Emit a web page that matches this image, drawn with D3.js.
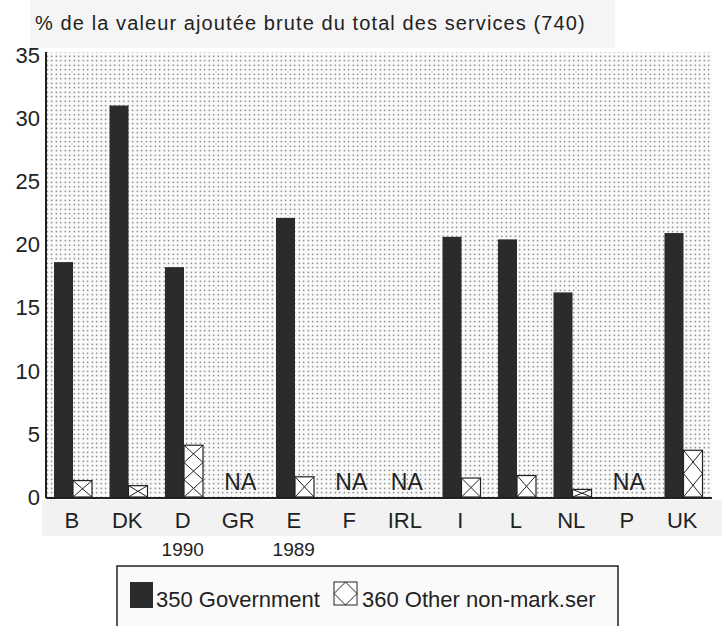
<!DOCTYPE html>
<html>
<head>
<meta charset="UTF-8">
<style>
  body { margin: 0; background: #fff; }
  svg { display: block; font-family: "Liberation Sans", Arial, sans-serif; }
</style>
</head>
<body>
<svg></svg>
<script src="https://d3js.org/d3.v7.min.js"></script>
<script>
const width = 722, height = 626;

// data
const countries = ["B", "DK", "D", "GR", "E", "F", "IRL", "I", "L", "NL", "P", "UK"];
const subLabels = ["", "", "1990", "", "1989", "", "", "", "", "", "", ""];
const government = [18.6, 31.0, 18.2, null, 22.1, null, null, 20.6, 20.4, 16.2, null, 20.9];
const otherNonMarket = [1.3, 0.9, 4.1, null, 1.6, null, null, 1.5, 1.7, 0.6, null, 3.7];
const yTicks = [0, 5, 10, 15, 20, 25, 30, 35];

const svg = d3.select("svg").attr("width", width).attr("height", height);

const margin = {left: 46, right: 10, top: 55, bottom: 129};

const x = d3.scaleBand()
  .domain(countries)
  .range([margin.left, width - margin.right])
  .paddingInner(0).paddingOuter(0);

const y = d3.scaleLinear()
  .domain([0, 35])
  .range([height - margin.bottom, margin.top]);

// patterns
const defs = svg.append("defs");
const dots = defs.append("pattern")
  .attr("id", "dots")
  .attr("width", 4.5).attr("height", 4.5)
  .attr("patternUnits", "userSpaceOnUse");
dots.append("rect").attr("width", 4.5).attr("height", 4.5).attr("fill", "#fbfbfb");
dots.append("rect").attr("x", 1.6).attr("y", 1.6).attr("width", 1.3).attr("height", 1.3).attr("fill", "#555");

// faint grey scan bands
svg.append("rect").attr("x", 30).attr("y", 0).attr("width", 585).attr("height", 48).attr("fill", "#f5f5f5");
svg.append("rect").attr("x", 42).attr("y", 500).attr("width", 680).attr("height", 36).attr("fill", "#f2f2f2");

// title
svg.append("text")
  .attr("x", 35).attr("y", 30)
  .attr("font-size", 20)
  .attr("letter-spacing", 1.1)
  .attr("fill", "#222")
  .text("% de la valeur ajoutée brute du total des services (740)");

// plot background
svg.append("rect")
  .attr("x", margin.left).attr("y", y(35) - 3)
  .attr("width", width - margin.right - margin.left)
  .attr("height", y(0) - y(35) + 3)
  .attr("fill", "url(#dots)");

// y labels
svg.append("g")
  .selectAll("text")
  .data(yTicks)
  .join("text")
    .attr("x", 40)
    .attr("y", d => y(d))
    .attr("dy", "0.36em")
    .attr("text-anchor", "end")
    .attr("font-size", 22)
    .attr("fill", "#222")
    .text(d => d);

const barW = 19;
const offset = 8;

// government bars
svg.append("g")
  .selectAll("rect")
  .data(countries.map((c, i) => ({c, v: government[i]})).filter(d => d.v != null))
  .join("rect")
    .attr("x", d => x(d.c) + offset)
    .attr("y", d => y(d.v))
    .attr("width", barW)
    .attr("height", d => y(0) - y(d.v))
    .attr("fill", "#2b2b2b");

// hatched bars
const hatch = svg.append("g")
  .selectAll("g")
  .data(countries.map((c, i) => ({c, v: otherNonMarket[i]})).filter(d => d.v != null))
  .join("g");

hatch.append("rect")
  .attr("x", d => x(d.c) + offset + barW)
  .attr("y", d => y(d.v))
  .attr("width", barW)
  .attr("height", d => y(0) - y(d.v))
  .attr("fill", "#fff")
  .attr("stroke", "#222")
  .attr("stroke-width", 1.2);

// crossing lines inside each hatched bar, one X per square of bar width
hatch.each(function(d) {
  const g = d3.select(this);
  const x0 = x(d.c) + offset + barW, x1 = x0 + barW;
  const top = y(d.v), bot = y(0);
  const h = bot - top;
  const n = Math.max(1, Math.round(h / barW));
  const step = h / n;
  for (let k = 0; k < n; k++) {
    const a = top + k * step, b = a + step;
    g.append("line").attr("x1", x0).attr("y1", a).attr("x2", x1).attr("y2", b)
      .attr("stroke", "#222").attr("stroke-width", 1);
    g.append("line").attr("x1", x1).attr("y1", a).attr("x2", x0).attr("y2", b)
      .attr("stroke", "#222").attr("stroke-width", 1);
  }
});

// NA labels
svg.append("g")
  .selectAll("text")
  .data(countries.filter((c, i) => government[i] == null))
  .join("text")
    .attr("x", d => x(d) + x.bandwidth() / 2)
    .attr("y", y(0) - 7)
    .attr("text-anchor", "middle")
    .attr("font-size", 23)
    .attr("fill", "#222")
    .text("NA");

// axes lines
svg.append("line")
  .attr("x1", margin.left).attr("x2", margin.left)
  .attr("y1", y(35) - 3).attr("y2", y(0) + 1)
  .attr("stroke", "#222").attr("stroke-width", 2);
svg.append("line")
  .attr("x1", margin.left).attr("x2", width - margin.right)
  .attr("y1", y(0) + 1).attr("y2", y(0) + 1)
  .attr("stroke", "#222").attr("stroke-width", 2);

// category labels
svg.append("g")
  .selectAll("text")
  .data(countries)
  .join("text")
    .attr("x", d => x(d) + x.bandwidth() / 2 - 2)
    .attr("y", 528)
    .attr("text-anchor", "middle")
    .attr("font-size", 22)
    .attr("fill", "#222")
    .text(d => d);

svg.append("g")
  .selectAll("text")
  .data(countries.map((c, i) => ({c, t: subLabels[i]})).filter(d => d.t))
  .join("text")
    .attr("x", d => x(d.c) + x.bandwidth() / 2 - 2)
    .attr("y", 556)
    .attr("text-anchor", "middle")
    .attr("font-size", 19)
    .attr("fill", "#222")
    .text(d => d.t);

// legend
const lg = svg.append("g");
lg.append("rect")
  .attr("x", 117).attr("y", 566)
  .attr("width", 501).attr("height", 80)
  .attr("fill", "#fafafa").attr("stroke", "#222").attr("stroke-width", 1.5);
lg.append("rect")
  .attr("x", 130).attr("y", 582).attr("width", 23).attr("height", 26)
  .attr("fill", "#2b2b2b");
lg.append("text")
  .attr("x", 156).attr("y", 607)
  .attr("font-size", 22).attr("fill", "#222")
  .text("350 Government");
lg.append("rect")
  .attr("x", 334).attr("y", 582).attr("width", 23).attr("height", 23)
  .attr("fill", "#fff").attr("stroke", "#222");
lg.append("path")
  .attr("d", "M334,593.5L345.5,582L357,593.5L345.5,605Z")
  .attr("fill", "none").attr("stroke", "#222");
lg.append("text")
  .attr("x", 362).attr("y", 607)
  .attr("font-size", 22).attr("fill", "#222")
  .text("360 Other non-mark.ser");
</script>
</body>
</html>
